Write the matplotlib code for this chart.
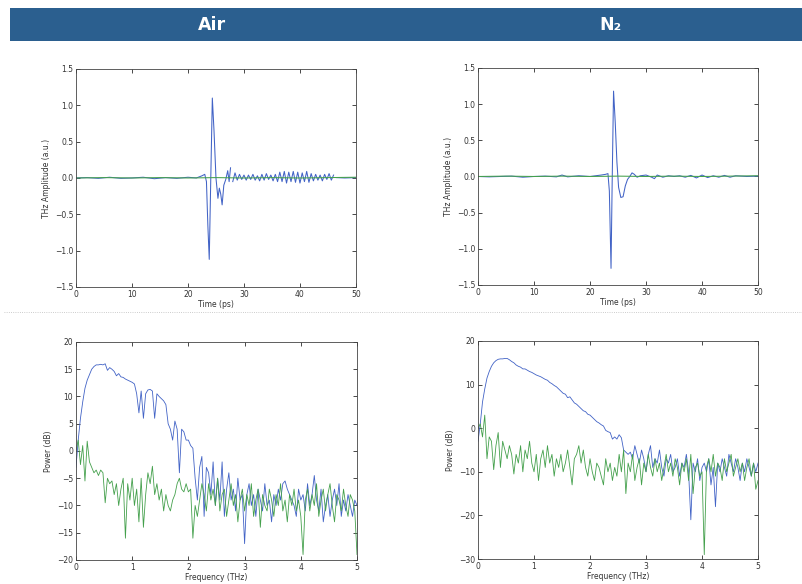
import numpy as np
import matplotlib
matplotlib.use('Agg')
import matplotlib.pyplot as plt
from matplotlib.patches import Rectangle

''' DATA (read off the reference) '''
columns = ['Air', 'N\u2082']

# time domain, Air (blue = sample, green = reference)
air_t_head = [0, 2, 4, 6, 8, 10, 12, 14, 16, 18, 20, 21.5, 22.5, 23.0, 23.3, 23.55,
              23.8, 24.05, 24.35, 24.65, 25.0, 25.35, 25.6, 25.85, 26.1, 26.4, 26.75,
              27.1, 27.35, 27.6]
air_y_head = [0.0, 0.005, -0.005, 0.01, -0.005, 0.0, 0.01, -0.01, 0.005, -0.005, 0.01,
              0.0, 0.03, 0.05, -0.05, -0.65, -1.12, -0.1, 1.1, 0.65, 0.0, -0.28,
              -0.14, -0.22, -0.37, -0.1, -0.02, 0.1, -0.05, 0.14]
# ringing from 28 ps to 46 ps, every 0.4 ps
air_ring = [-0.05, 0.07, -0.03, 0.05, -0.02, 0.04, -0.03, 0.04, -0.02, 0.05,
            -0.03, 0.03, -0.04, 0.05, -0.03, 0.06, -0.02, 0.04, -0.04, 0.05,
            -0.05, 0.08, -0.05, 0.09, -0.07, 0.08, -0.05, 0.09, -0.06, 0.08,
            -0.07, 0.07, -0.05, 0.09, -0.06, 0.06, -0.04, 0.05, -0.03, 0.04,
            -0.04, 0.05, -0.02, 0.06, -0.03, 0.04]
air_t_tail = [46.5, 48, 50]
air_y_tail = [0.005, 0.0, 0.005]

# time domain, N2
n2_t = [0, 2, 4, 6, 8, 10, 12, 14, 15, 16, 18, 20, 22, 22.8, 23.2, 23.45, 23.75, 23.95,
        24.2, 24.5, 24.8, 25.1, 25.5, 25.9, 26.3, 26.7, 27.1, 27.5, 27.9, 28.4, 29, 30,
        31, 31.5, 32, 33, 34, 35, 36, 37, 38, 39, 40, 41, 42, 43, 44, 45, 46, 48, 50]
n2_y = [0.0, -0.005, 0.0, 0.005, -0.01, 0.0, 0.005, -0.005, 0.02, -0.005, 0.01, 0.0,
        0.02, 0.03, 0.04, -0.2, -1.27, -0.1, 1.18, 0.75, 0.2, -0.15, -0.29, -0.28,
        -0.13, -0.04, 0.0, 0.05, 0.03, -0.01, 0.01, 0.02, -0.01, -0.03, 0.02, -0.01,
        0.01, 0.0, 0.01, -0.01, 0.015, -0.02, 0.02, -0.015, 0.01, -0.01, 0.015, -0.01,
        0.01, 0.0, 0.005]

ref_t = [0, 5, 10, 15, 20, 25, 30, 35, 40, 45, 50]
ref_y = [0.0, 0.005, 0.0, 0.005, 0.0, 0.005, 0.0, 0.005, 0.0, 0.005, 0.01]

# spectra (dB), 0..5 THz every 0.04 THz
air_blue_db = [-3, 2, 6, 9, 11.5, 13, 14, 15, 15.5, 15.8,
               15.8, 15.9, 15.8, 16, 14.8, 15.3, 15, 14.6, 13.8, 14.2,
               13.6, 13.5, 13.2, 13, 12.8, 12.6, 12.3, 10.5, 7, 11,
               6, 10.5, 11.2, 11.3, 11, 6, 10.5, 10, 9.6, 9.2,
               8.5, 5, 4, 2, 5.5, 4, -4, 4, 3.5, 2,
               2, 1, 0.5, -5, -9, -3, -1, -12, -3, -4,
               -8, -2, -10, -5, -9, -2, -12, -7, -4, -9,
               -7, -11, -5, -9, -8, -17, -8, -6, -10, -8,
               -12, -7, -9, -11, -6, -10, -9, -13, -8, -10,
               -7, -9, -6, -5.5, -7, -8, -9, -10, -12, -7,
               -9, -8, -11, -6, -10, -8, -4.5, -9, -11, -7,
               -13, -10, -8, -12, -9, -7, -10, -6, -12, -9,
               -11, -8, -10, -12, -9, -10]
air_green_db = [0, 2, -2.5, 1, -5.5, 1.8, -2, -3, -4, -3.5,
                -4.5, -3.5, -4, -9.5, -5, -6, -5.5, -8, -6, -10,
                -7, -5, -16, -6, -9, -5, -10, -7, -13, -5,
                -14, -8, -4, -6, -2.8, -8, -6, -9, -7, -11,
                -8, -10, -11, -9, -8, -6, -5, -7, -7.5, -6,
                -7.5, -7, -16, -10, -12, -9, -6, -8, -11, -6,
                -9, -7, -10, -5, -11, -8, -7, -12, -9, -6,
                -10, -8, -13, -9, -7, -11, -8, -10, -6, -12,
                -9, -7, -14, -8, -10, -11, -7, -9, -12, -8,
                -10, -6, -11, -9, -13, -8, -10, -7, -11, -9,
                -12, -19, -9, -7, -11, -8, -10, -6, -12, -9,
                -7, -11, -8, -6, -10, -13, -8, -9, -11, -7,
                -10, -12, -8, -9, -11, -19]
n2_blue_db = [-3, 1, 6, 9, 11.5, 13, 14.2, 15, 15.5, 15.8,
              15.9, 15.9, 16, 16, 15.7, 15.3, 15, 14.5, 14.2, 14,
              13.6, 13.6, 13.3, 13, 12.8, 12.5, 12.2, 12, 11.8, 11.5,
              11.2, 11, 10.5, 10.2, 9.8, 9.5, 9, 8.5, 8, 7.8,
              7, 7.2, 6.5, 5.8, 5.5, 5, 4.5, 4, 3.8, 3.2,
              3, 2.5, 2, 1.5, 1.2, 0.8, 0.5, -0.5, -0.8, -1,
              -2.5, -2, -2.5, -1.5, -2.2, -5, -5.5, -6, -5.5, -7,
              -4, -6, -8, -5, -7, -10, -6, -4, -9, -7,
              -8, -5, -9, -11, -7, -8, -6, -10, -9, -7,
              -11, -8, -9, -6, -10, -21, -8, -10, -7, -12,
              -9, -8, -10, -7, -13, -9, -18, -8, -10, -7,
              -9, -11, -6, -8, -10, -7, -9, -12, -8, -10,
              -7, -9, -11, -8, -10, -8]
n2_green_db = [0, 1, -2, 3, -7, -2, -3, -9.5, -4, -1,
               -9, -3, -5, -7, -4, -6, -10.5, -6, -8, -4,
               -10, -5, -7, -3, -8, -10, -6, -12, -7, -5,
               -9, -4, -8, -6, -11, -7, -9, -6, -10, -8,
               -5, -9, -13, -7, -6, -4, -8, -5, -9, -11,
               -7, -10, -12, -8, -9, -11, -13, -7, -10, -8,
               -12, -9, -11, -6, -10, -5, -15, -8, -10, -6,
               -12, -9, -7, -13, -8, -10, -6, -9, -11, -7,
               -10, -8, -12, -9, -6, -10, -8, -11, -7, -9,
               -13, -8, -10, -7, -12, -6, -15, -9, -8, -11,
               -10, -29, -9, -7, -10, -6, -11, -8, -9, -12,
               -7, -10, -8, -6, -11, -9, -7, -10, -8, -12,
               -9, -7, -11, -8, -14, -12]

BLUE = '#4263c6'
GREEN = '#44a04c'
TXT = '#333333'

''' FIGURE '''
fig = plt.figure(figsize=(8.03, 5.84), dpi=100)

# header banner
fig.patches.append(Rectangle((0.0125, 0.9298), 0.9875, 0.0565, transform=fig.transFigure,
                             facecolor='#2b5f8f', edgecolor='none', zorder=0))
for x, name in zip([0.264, 0.760], columns):
    fig.text(x, 0.958, name, color='white', fontsize=12.5, fontweight='bold',
             ha='center', va='center', family=['Liberation Sans Narrow', 'DejaVu Sans'])

# dotted separator between rows
fig.add_artist(plt.Line2D([0.005, 1.0], [0.4658, 0.4658], transform=fig.transFigure,
                          color='#bbbbbb', lw=0.6, ls=':'))


def style(ax):
    ax.tick_params(direction='in', length=3, width=0.5, labelsize=5.5, colors='black',
                   labelcolor=TXT, top=True, right=True, pad=2)
    for s in ax.spines.values():
        s.set_linewidth(0.6)
        s.set_color('#444444')


lw = 0.75

# top row: time domain
ax_tl = fig.add_axes([0.0946, 0.5086, 0.3487, 0.3733])
ax_tl.plot(air_t_head, air_y_head, color=BLUE, lw=lw)
ax_tl.plot(np.linspace(27.6, 46, len(air_ring) + 1)[1:], air_ring, color=BLUE, lw=lw)
ax_tl.plot(air_t_tail, air_y_tail, color=BLUE, lw=lw)
ax_tl.plot(ref_t, ref_y, color=GREEN, lw=lw)

ax_tr = fig.add_axes([0.5953, 0.5120, 0.3487, 0.3716])
ax_tr.plot(n2_t, n2_y, color=BLUE, lw=lw)
ax_tr.plot(ref_t, ref_y, color=GREEN, lw=lw)

for ax in (ax_tl, ax_tr):
    ax.set_xlim(0, 50); ax.set_ylim(-1.5, 1.5)
    ax.set_xticks(np.arange(0, 51, 10)); ax.set_yticks(np.arange(-1.5, 1.51, 0.5))
    ax.set_xlabel('Time (ps)', fontsize=5.5, color=TXT, labelpad=1)
    ax.set_ylabel('THz Amplitude (a.u.)', fontsize=5.5, color=TXT, labelpad=3)
    style(ax)

# bottom row: spectra
lw_s = 0.6
ax_bl = fig.add_axes([0.0946, 0.0411, 0.3500, 0.3733])
ax_bl.plot(np.linspace(0, 5, len(air_blue_db)), air_blue_db, color=BLUE, lw=lw_s)
ax_bl.plot(np.linspace(0, 5, len(air_green_db)), air_green_db, color=GREEN, lw=lw_s)
ax_bl.set_ylim(-20, 20); ax_bl.set_yticks(np.arange(-20, 21, 5))

ax_br = fig.add_axes([0.5953, 0.0428, 0.3487, 0.3733])
ax_br.plot(np.linspace(0, 5, len(n2_blue_db)), n2_blue_db, color=BLUE, lw=lw_s)
ax_br.plot(np.linspace(0, 5, len(n2_green_db)), n2_green_db, color=GREEN, lw=lw_s)
ax_br.set_ylim(-30, 20); ax_br.set_yticks(np.arange(-30, 21, 10))

for ax in (ax_bl, ax_br):
    ax.set_xlim(0, 5); ax.set_xticks(np.arange(0, 6, 1))
    ax.set_xlabel('Frequency (THz)', fontsize=5.5, color=TXT, labelpad=1)
    ax.set_ylabel('Power (dB)', fontsize=5.5, color=TXT, labelpad=3)
    style(ax)

fig.savefig('out.png', dpi=100)
